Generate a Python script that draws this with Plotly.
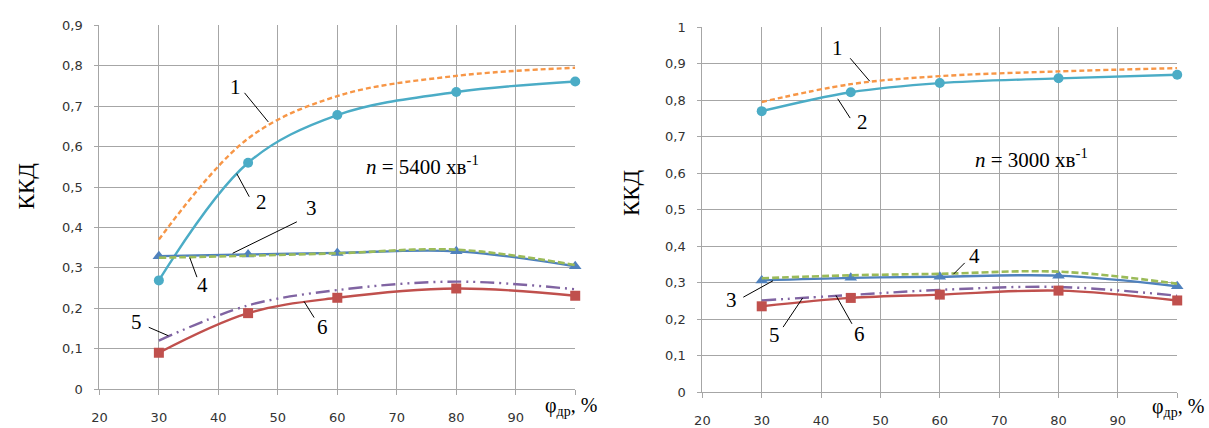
import plotly.graph_objects as go

# ---------------- data ----------------
phi = [30, 45, 60, 80, 100]

# n = 5400 rpm (left)
k1_5400 = [0.37, 0.62, 0.725, 0.775, 0.795]
k2_5400 = [0.269, 0.56, 0.678, 0.735, 0.761]
k3_5400 = [0.329, 0.333, 0.337, 0.341, 0.304]
k4_5400 = [0.325, 0.330, 0.336, 0.345, 0.307]
k5_5400 = [0.12, 0.207, 0.245, 0.266, 0.247]
k6_5400 = [0.09, 0.188, 0.226, 0.249, 0.231]

# n = 3000 rpm (right)
k1_3000 = [0.795, 0.844, 0.866, 0.879, 0.888]
k2_3000 = [0.77, 0.822, 0.847, 0.86, 0.87]
k3_3000 = [0.306, 0.313, 0.316, 0.319, 0.290]
k4_3000 = [0.312, 0.320, 0.324, 0.330, 0.297]
k5_3000 = [0.251, 0.266, 0.280, 0.288, 0.264]
k6_3000 = [0.235, 0.258, 0.267, 0.278, 0.251]

x_ticks = [20, 30, 40, 50, 60, 70, 80, 90, 100]
x_ticktext = ["20", "30", "40", "50", "60", "70", "80", "90", ""]
y_ticks_left = [0, 0.1, 0.2, 0.3, 0.4, 0.5, 0.6, 0.7, 0.8, 0.9]
y_ticktext_left = ["0", "0,1", "0,2", "0,3", "0,4", "0,5", "0,6", "0,7", "0,8", "0,9"]
y_ticks_right = [0, 0.1, 0.2, 0.3, 0.4, 0.5, 0.6, 0.7, 0.8, 0.9, 1.0]
y_ticktext_right = ["0", "0,1", "0,2", "0,3", "0,4", "0,5", "0,6", "0,7", "0,8", "0,9", "1"]

# ---------------- styles ----------------
ORANGE = "#F79646"
TEAL = "#4BACC6"
BLUE = "#4F81BD"
GREEN = "#9BBB59"
PURPLE = "#8064A2"
RED = "#C0504D"

SERIF = "Liberation Serif"
SANS = "DejaVu Sans"

fig = go.Figure()


def add_set(xa, ya, k1, k2, k3, k4, k5, k6):
    common = dict(x=phi, xaxis=xa, yaxis=ya, showlegend=False,
                  hoverinfo="skip", cliponaxis=False)
    fig.add_trace(go.Scatter(y=k1, mode="lines",
                             line=dict(color=ORANGE, width=2.4, dash="5px,3px",
                                       shape="spline", smoothing=1.0), **common))
    fig.add_trace(go.Scatter(y=k2, mode="lines+markers",
                             line=dict(color=TEAL, width=2.4, shape="spline", smoothing=1.0),
                             marker=dict(symbol="circle", size=10, color=TEAL), **common))
    fig.add_trace(go.Scatter(y=k3, mode="lines+markers",
                             line=dict(color=BLUE, width=2.4, shape="spline", smoothing=1.0),
                             marker=dict(symbol="triangle-up", size=11, color=BLUE), **common))
    fig.add_trace(go.Scatter(y=k4, mode="lines",
                             line=dict(color=GREEN, width=2.6, dash="7px,3px",
                                       shape="spline", smoothing=1.0), **common))
    fig.add_trace(go.Scatter(y=k5, mode="lines",
                             line=dict(color=PURPLE, width=2.4,
                                       dash="14px,5px,2px,5px,2px,5px",
                                       shape="spline", smoothing=1.0), **common))
    fig.add_trace(go.Scatter(y=k6, mode="lines+markers",
                             line=dict(color=RED, width=2.4, shape="spline", smoothing=1.0),
                             marker=dict(symbol="square", size=10, color=RED), **common))


add_set("x", "y", k1_5400, k2_5400, k3_5400, k4_5400, k5_5400, k6_5400)
add_set("x2", "y2", k1_3000, k2_3000, k3_3000, k4_3000, k5_3000, k6_3000)

GRID = "#A6A6A6"
TICKFONT = dict(family=SANS, size=13, color="#333333")
xcommon = dict(range=[20, 100], tickvals=x_ticks, ticktext=x_ticktext,
               showgrid=True, gridcolor=GRID, gridwidth=1,
               showline=True, linecolor=GRID, linewidth=1,
               ticks="outside", ticklen=5, tickcolor=GRID, tickwidth=1,
               ticklabelstandoff=11,
               tickfont=TICKFONT,
               zeroline=False, fixedrange=True)
ycommon = dict(showgrid=True, gridcolor=GRID, gridwidth=1,
               showline=True, linecolor=GRID, linewidth=1,
               ticks="outside", ticklen=4, tickcolor=GRID, tickwidth=1,
               ticklabelstandoff=9,
               tickfont=TICKFONT,
               zeroline=False, fixedrange=True)

W, H = 1209, 428
fig.update_layout(
    width=W, height=H,
    margin=dict(l=0, r=0, t=0, b=0),
    paper_bgcolor="white", plot_bgcolor="white",
    xaxis=dict(domain=[92 / W, 571 / W], anchor="y", **xcommon),
    yaxis=dict(domain=[1 - 396 / H, 1 - 19 / H], anchor="x", range=[0, 0.9],
               tickvals=y_ticks_left, ticktext=y_ticktext_left, **ycommon),
    xaxis2=dict(domain=[699 / W, 1177 / W], anchor="y2", **xcommon),
    yaxis2=dict(domain=[1 - 399 / H, 1 - 21 / H], anchor="x2", range=[0, 1.0],
                tickvals=y_ticks_right, ticktext=y_ticktext_right, **ycommon),
)

annotations = []
shapes = []

# Y axis titles
for px, py in [(19, 185), (627, 192)]:
    annotations.append(dict(text="ККД", x=px / W, y=1 - py / H, xref="paper", yref="paper",
                            showarrow=False, textangle=-90,
                            font=dict(family=SERIF, size=23, color="black"),
                            xanchor="center", yanchor="middle"))

# X axis titles
for px, py in [(567, 414), (1178, 415)]:
    annotations.append(dict(text="φ<sub>др</sub>, %", x=px / W, y=1 - py / H,
                            xref="paper", yref="paper",
                            showarrow=False, xanchor="center", yanchor="middle",
                            font=dict(family=SERIF, size=20, color="black")))

# speed labels
annotations.append(dict(text="<i>n</i> = 5400 хв<sup>-1</sup>", x=74.3, y=0.552,
                        xref="x", yref="y", showarrow=False,
                        font=dict(family=SERIF, size=21, color="black")))
annotations.append(dict(text="<i>n</i> = 3000 хв<sup>-1</sup>", x=75.4, y=0.641,
                        xref="x2", yref="y2", showarrow=False,
                        font=dict(family=SERIF, size=21, color="black")))

# curve numbers and leaders
left_labels = [("1", 42.8, 0.747, 44.4, 0.733, 48.4, 0.661),
               ("2", 47.3, 0.464, 45.2, 0.476, 43.1, 0.533),
               ("3", 55.7, 0.447, 53.2, 0.414, 42.4, 0.336),
               ("4", 37.4, 0.257, 36.4, 0.277, 35.2, 0.325),
               ("5", 26.3, 0.167, 28.3, 0.153, 31.6, 0.132),
               ("6", 57.5, 0.153, 56.1, 0.177, 54.4, 0.217)]
right_labels = [("1", 42.8, 0.942, 44.9, 0.915, 48.2, 0.852),
                ("2", 46.9, 0.741, 44.9, 0.751, 42.8, 0.804),
                ("3", 24.9, 0.253, 26.9, 0.26, 31.9, 0.305),
                ("4", 65.9, 0.372, 64.2, 0.354, 62.3, 0.323),
                ("5", 32.2, 0.156, 33.6, 0.178, 36.9, 0.258),
                ("6", 46.4, 0.160, 45.2, 0.187, 42.5, 0.265)]

for labels, xr, yr in [(left_labels, "x", "y"), (right_labels, "x2", "y2")]:
    for t, tx, ty, x0, y0, x1, y1 in labels:
        annotations.append(dict(text=t, x=tx, y=ty, xref=xr, yref=yr, showarrow=False,
                                font=dict(family=SERIF, size=21, color="black")))
        shapes.append(dict(type="line", x0=x0, y0=y0, x1=x1, y1=y1, xref=xr, yref=yr,
                           line=dict(color="black", width=1)))

fig.update_layout(annotations=annotations, shapes=shapes)

fig.write_html("out.html")
